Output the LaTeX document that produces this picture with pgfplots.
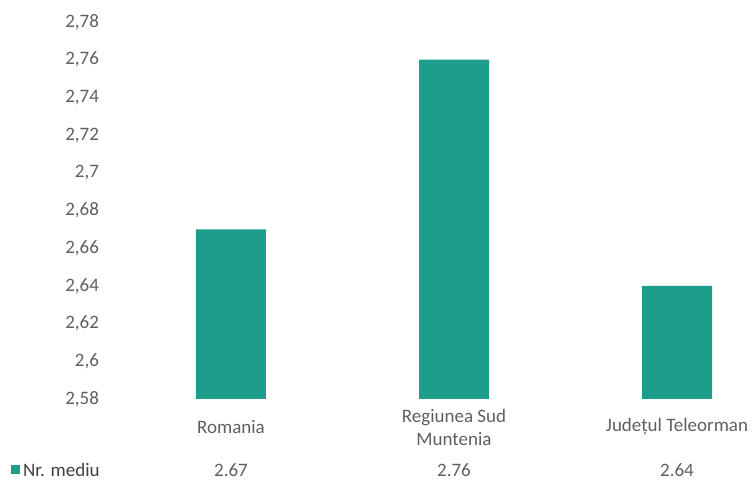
\documentclass[border=0pt]{standalone}
\usepackage{fontspec}
\setmainfont{Carlito}
\usepackage{pgfplots}
\pgfplotsset{compat=1.18}
\definecolor{bar}{RGB}{30,158,138}
\definecolor{txt}{RGB}{95,95,95}
\begin{document}
\begin{tikzpicture}
\begin{axis}[
  scale only axis, width=669pt, height=377pt,
  xmin=-0.5, xmax=2.5, ymin=2.58, ymax=2.78,
  axis line style={draw=none}, major tick length=0pt,
  ytick={2.58,2.60,2.62,2.64,2.66,2.68,2.70,2.72,2.74,2.76,2.78},
  yticklabel style={/pgf/number format/.cd, use comma, fixed, precision=2, assume math mode=true, /tikz/.cd, xshift=-17pt, font=\fontsize{19}{23}\selectfont, text=txt},
  xtick={0,1,2},
  xticklabels={Romania, {Regiunea Sud\\Muntenia}, Județul Teleorman},
  xticklabel style={align=center, anchor=center, yshift=-28pt, font=\fontsize{19}{23}\selectfont, text=txt},
  ybar, bar width=70pt,
]
\addplot[fill=bar, draw=none] coordinates {(0,2.67) (1,2.76) (2,2.64)};
\coordinate (O) at (rel axis cs:0,0);
\coordinate (c0) at (axis cs:0,2.58);
\coordinate (c1) at (axis cs:1,2.58);
\coordinate (c2) at (axis cs:2,2.58);
\end{axis}
\begin{scope}[every node/.style={font=\fontsize{19}{23}\selectfont, text=txt, inner sep=0pt}]
\node at ([yshift=-71pt]c0) {2.67};
\node at ([yshift=-71pt]c1) {2.76};
\node at ([yshift=-71pt]c2) {2.64};
\fill[bar] ([shift={(-108pt,-75.5pt)}]O) rectangle ++(9pt,9pt);
\node[anchor=west, text=black!75] at ([shift={(-96.5pt,-71pt)}]O) {Nr. mediu};
\end{scope}
\pgfresetboundingbox
\path[use as bounding box] ([shift={(-119.5pt,-82pt)}]O) rectangle ([shift={(636.5pt,399pt)}]O);
\end{tikzpicture}
\end{document}
